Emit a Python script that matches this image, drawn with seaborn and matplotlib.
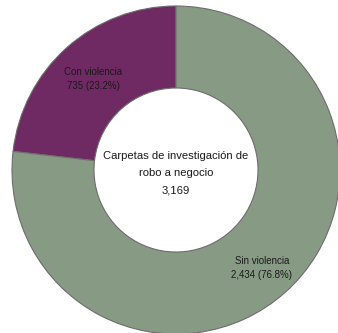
import numpy as np
import matplotlib.pyplot as plt
import seaborn as sns

# datos
categorias = ["Con violencia", "Sin violencia"]
valores = [735, 2434]
porcentajes = [23.2, 76.8]
titulo_centro = "Carpetas de investigación de\nrobo a negocio"
total = 3169

colores = ["#6f2a63", "#879b84"]

sns.set_theme(style="white")
plt.rcParams['font.family'] = ['Liberation Sans', 'DejaVu Sans']

fig = plt.figure(figsize=(3.38, 3.33), dpi=100)
ax = fig.add_axes([0, 0, 1, 1])

wedges, _ = ax.pie(valores, colors=colores, startangle=90, counterclock=True,
                   radius=1.0,
                   wedgeprops=dict(width=0.5, edgecolor="#6d6d6d", linewidth=0.8))

# etiquetas de cada segmento
radios_etiqueta = [0.755, 0.785]
for w, cat, v, p, r in zip(wedges, categorias, valores, porcentajes, radios_etiqueta):
    ang = np.deg2rad((w.theta1 + w.theta2) / 2)
    ax.text(r * np.cos(ang), r * np.sin(ang) - 0.01, f"{cat}\n{v:,} ({p}%)",
            ha="center", va="center", fontsize=7, color="#1a1a1a",
            linespacing=1.5)

ax.text(0, -0.02, f"{titulo_centro}\n{total:,}", ha="center", va="center",
        fontsize=8.1, color="#1a1a1a", linespacing=1.95)

ax.set_xlim(-176 / 164, (338 - 176) / 164)
ax.set_ylim(-163 / 164, 170 / 164)
ax.set_aspect("equal")
ax.axis("off")

fig.savefig("out.png", dpi=100)
